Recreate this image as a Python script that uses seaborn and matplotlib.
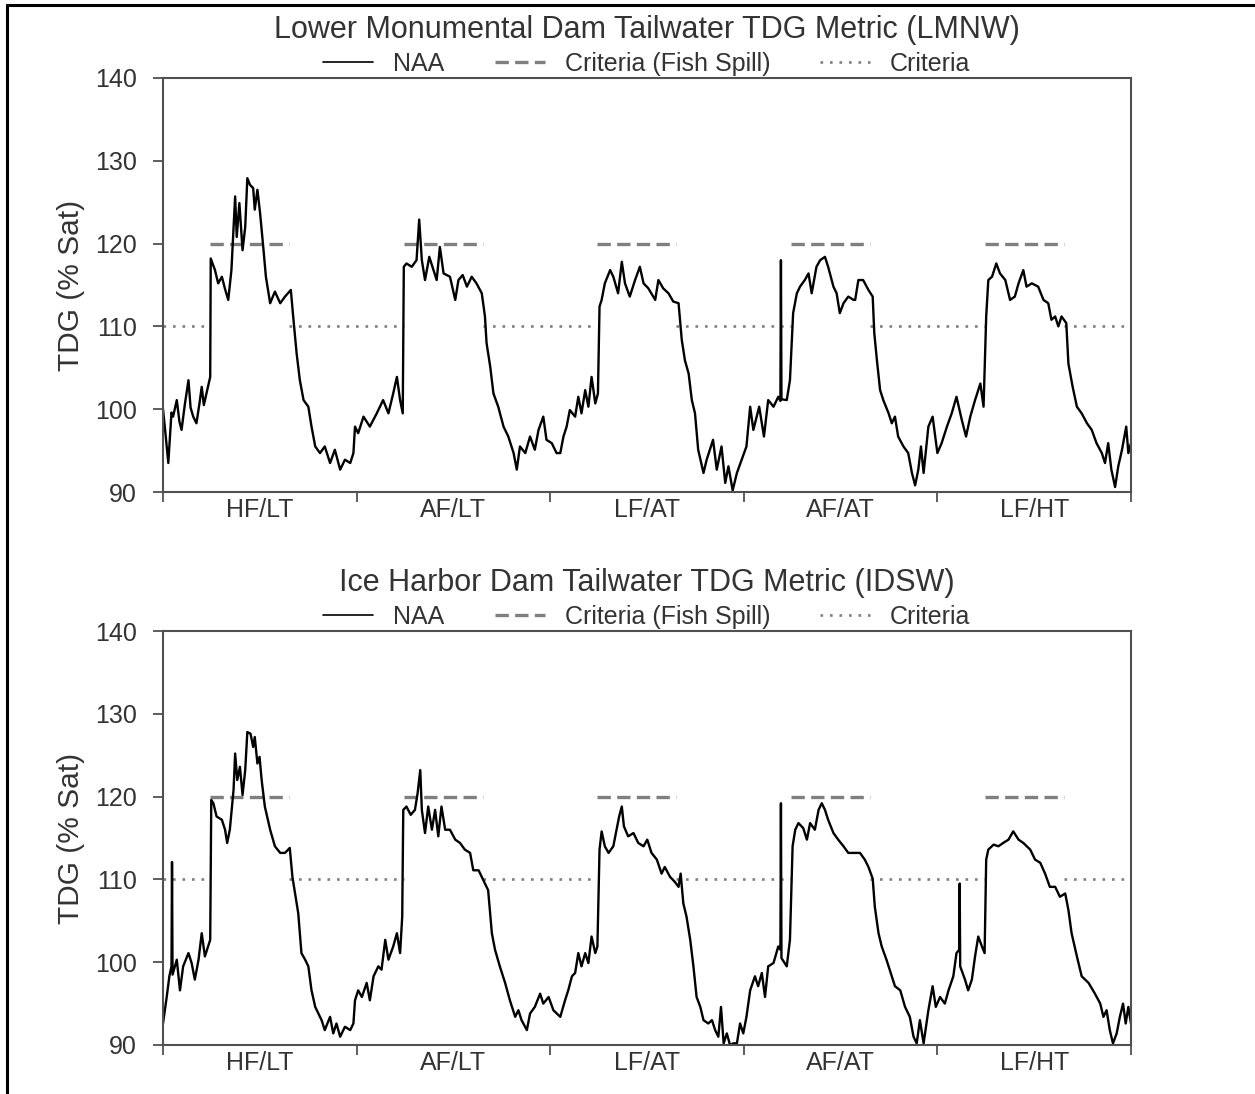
import numpy as np
import pandas as pd
import matplotlib
matplotlib.use("Agg")
import matplotlib.pyplot as plt
from matplotlib.lines import Line2D
import seaborn as sns

# ---- data -------------------------------------------------------------
scenarios = ["HF/LT", "AF/LT", "LF/AT", "AF/AT", "LF/HT"]
days_per_year = 365
spill_start_doy = 89     # fish spill season start (day of year)
spill_end_doy = 238      # fish spill season end (day of year)
fish_spill_criteria = 120.0
base_criteria = 110.0

titles = ["Lower Monumental Dam Tailwater TDG Metric (LMNW)",
          "Ice Harbor Dam Tailwater TDG Metric (IDSW)"]

lmnw_day = [0, 4, 10, 16, 19, 26, 31, 35, 41, 48, 52, 57, 63, 69, 73, 77, 82, 89,
            90, 98, 104, 111, 117, 123, 129, 136, 139, 144, 150, 155, 159, 164, 170,
            173, 178, 183, 189, 194, 202, 211, 221, 230, 241, 246, 252, 258, 265, 274,
            280, 287, 296, 305, 315, 324, 334, 343, 353, 359, 362,
            368, 378, 390, 403, 415, 425, 434, 441, 447, 452, 454, 459, 469, 478, 483,
            488, 494, 502, 510, 516, 522, 529, 541, 551, 557, 565, 573, 582, 591, 601,
            607, 610, 617, 623, 632, 642, 651, 661, 667, 673, 683, 692, 701, 708, 717,
            723, 733, 742,
            749, 755, 761, 767, 777, 783, 789, 796, 802, 808, 815, 820, 823, 827, 833,
            843, 849, 858, 865, 871, 880, 890, 899, 906, 915, 928, 934, 943, 953, 962,
            972, 978, 984, 991, 997, 1003, 1009, 1019, 1025, 1037, 1044, 1053, 1060,
            1066, 1074, 1082, 1091,
            1100, 1107, 1113, 1124, 1133, 1141, 1151, 1160, 1164, 1165, 1166, 1176,
            1182, 1188, 1195, 1201, 1210, 1217, 1223, 1232, 1239, 1248, 1254, 1264,
            1270, 1276, 1283, 1292, 1302, 1305, 1311, 1320, 1330, 1338, 1341, 1346,
            1352, 1358, 1368, 1374, 1380, 1386, 1396, 1405, 1412, 1418, 1424, 1429,
            1434, 1443, 1451, 1460,
            1468, 1478, 1487, 1496, 1506, 1514, 1522, 1531, 1541, 1547, 1552, 1556,
            1563, 1571, 1578, 1588, 1597, 1606, 1613, 1622, 1628, 1638, 1650, 1660,
            1669, 1675, 1682, 1688, 1694, 1703, 1707, 1715, 1723, 1732, 1742, 1751,
            1760, 1770, 1776, 1782, 1788, 1795, 1801, 1808, 1816, 1820, 1825]
lmnw_tdg = [100.0, 97.5, 93.5, 99.6, 99.1, 101.1, 98.5, 97.5, 100.5, 103.5, 100.2, 99.1,
            98.3, 100.8, 102.7, 100.5, 101.9, 103.9,
            118.2, 116.8, 115.2, 116.0, 114.5, 113.2, 116.8, 125.7, 120.8, 124.9, 119.2,
            122.0, 127.9, 127.1, 126.7, 124.1, 126.5, 123.7, 119.6, 116.0, 112.8, 114.2,
            112.8, 113.6, 114.4, 110.8, 106.7, 103.5, 101.1, 100.3, 97.9, 95.5, 94.7,
            95.5, 93.5, 95.1, 92.7, 93.9, 93.5, 94.7, 97.9,
            97.1, 99.1, 97.9, 99.5, 101.1, 99.5, 101.9, 103.9, 101.1, 99.5, 117.2, 117.6,
            117.2, 118.0, 122.9, 118.0, 115.6, 118.4, 116.8, 115.6, 119.6, 116.4, 116.0,
            113.2, 115.6, 116.2, 114.8, 116.0, 115.2, 114.0, 111.2, 108.0, 105.1, 101.9,
            100.3, 97.9, 96.7, 94.7, 92.7, 95.5, 94.7, 96.7, 95.1, 97.5, 99.1, 96.3,
            95.9, 94.7,
            94.7, 96.7, 97.9, 99.9, 99.1, 101.5, 99.5, 102.3, 100.3, 103.9, 100.7, 101.9,
            112.4, 113.2, 115.2, 116.8, 116.0, 114.0, 117.8, 115.2, 113.6, 115.6, 117.2,
            115.2, 114.6, 113.2, 115.6, 114.6, 114.0, 113.0, 112.8, 108.4, 105.9, 104.3,
            101.1, 99.5, 95.1, 92.3, 93.9, 96.3, 92.7, 95.5, 91.1, 93.1, 90.2, 92.3, 93.9,
            95.5, 100.3, 97.5, 100.3, 96.7, 101.1, 100.3, 101.5, 101.0, 118.0, 101.2,
            101.1, 103.5, 111.6, 114.0, 114.8, 115.6, 116.4, 114.0, 117.2, 118.0, 118.4,
            117.2, 114.8, 114.0, 111.6, 112.8, 113.6, 113.2, 113.2, 115.6, 115.6, 114.4,
            113.6, 109.2, 105.9, 102.3, 101.1, 99.5, 98.3, 99.1, 96.7, 95.5, 94.7, 92.3,
            90.8, 92.7, 95.5, 92.3, 97.9, 99.1, 94.7,
            95.9, 97.9, 99.5, 101.5, 98.7, 96.7, 99.1, 101.1, 103.1, 100.3, 111.2, 115.6,
            116.0, 117.6, 116.4, 115.6, 113.2, 113.6, 115.2, 116.8, 114.8, 115.2, 114.8,
            113.2, 112.8, 110.8, 111.2, 110.0, 111.2, 110.4, 105.5, 102.7, 100.3, 99.5,
            98.3, 97.5, 95.9, 94.7, 93.5, 95.9, 92.7, 90.6, 93.1, 95.1, 97.9, 94.7, 95.9]

idsw_day = [0, 7, 12, 16, 17, 18, 26, 32, 38, 48, 54, 60, 67, 73, 79, 85, 89,
            91, 95, 101, 111, 117, 121, 126, 133, 136, 140, 145, 150, 155, 159, 165,
            170, 173, 178, 182, 186, 192, 202, 211, 221, 230, 239, 244, 249, 255, 261,
            268, 274, 280, 287, 293, 299, 305, 315, 321, 327, 334, 343, 353, 359,
            362, 368, 375, 384, 390, 397, 406, 412, 419, 425, 434, 441, 447, 451, 453,
            459, 467, 475, 480, 485, 488, 494, 500, 507, 513, 519, 525, 532, 541, 551,
            560, 569, 579, 585, 595, 604, 613, 620, 626, 635, 645, 654, 664, 670, 676,
            686, 692, 701, 711, 717, 727, 736,
            749, 758, 764, 771, 777, 783, 789, 796, 802, 808, 815, 819, 823, 827, 833,
            840, 849, 855, 860, 865, 869, 877, 887, 896, 906, 913, 921, 931, 940, 946,
            956, 965, 972, 976, 981, 987, 994, 1000, 1006, 1013, 1019, 1028, 1035, 1041,
            1047, 1052, 1057, 1063, 1069, 1075, 1082, 1088,
            1094, 1100, 1107, 1116, 1122, 1129, 1135, 1141, 1151, 1160, 1164, 1165,
            1166, 1168, 1176, 1182, 1187, 1192, 1198, 1207, 1214, 1220, 1229, 1236,
            1242, 1248, 1254, 1264, 1273, 1283, 1292, 1302, 1314, 1323, 1330, 1338,
            1342, 1349, 1355, 1364, 1374, 1380, 1390, 1399, 1408, 1415, 1421, 1427,
            1434, 1443, 1451, 1457,
            1465, 1474, 1481, 1490, 1496, 1501, 1502, 1503, 1512, 1518, 1525, 1531,
            1537, 1544, 1549, 1552, 1556, 1566, 1575, 1584, 1594, 1603, 1613, 1622,
            1635, 1644, 1654, 1663, 1672, 1682, 1691, 1701, 1707, 1713, 1723, 1732,
            1745, 1757, 1767, 1773, 1779, 1785, 1791, 1798, 1804, 1810, 1815, 1820, 1825]
idsw_tdg = [92.6, 95.8, 98.3, 99.5, 112.1, 98.5, 100.3, 96.6, 99.5, 101.1, 99.9, 97.9,
            100.3, 103.5, 100.7, 101.9, 102.7,
            119.6, 119.2, 117.6, 117.2, 116.0, 114.4, 116.0, 120.8, 125.2, 122.0, 123.6,
            120.2, 123.2, 127.8, 127.6, 126.0, 127.2, 124.0, 124.8, 122.0, 118.8, 116.0,
            114.0, 113.2, 113.2, 113.8, 110.3, 108.3, 105.9, 101.1, 100.3, 99.5, 96.6,
            94.6, 93.8, 93.0, 91.8, 93.4, 91.4, 92.6, 91.0, 92.2, 91.8, 92.6,
            95.4, 96.6, 95.8, 97.5, 95.4, 98.3, 99.5, 99.1, 102.7, 100.3, 101.9, 103.5,
            101.1, 105.5, 118.4, 118.8, 117.8, 118.4, 120.4, 123.2, 118.4, 115.6, 118.8,
            116.0, 118.4, 115.2, 118.8, 116.0, 116.0, 114.8, 114.4, 113.6, 113.2, 111.1,
            111.1, 109.9, 108.7, 103.5, 101.5, 99.5, 97.5, 95.4, 93.4, 94.2, 93.0, 91.8,
            93.8, 94.6, 96.2, 95.0, 95.8, 94.2,
            93.4, 95.4, 96.6, 98.3, 98.7, 101.1, 99.5, 101.1, 99.9, 103.1, 101.1, 101.9,
            113.6, 115.8, 114.0, 113.2, 114.0, 116.0, 117.6, 118.8, 116.4, 115.2, 115.6,
            114.4, 114.0, 114.8, 113.2, 112.4, 110.7, 111.5, 110.3, 109.7, 109.1, 110.7,
            107.1, 105.5, 102.7, 99.5, 95.8, 94.6, 93.0, 92.6, 93.0, 91.8, 91.0, 94.6,
            90.2, 91.4, 90.0, 90.2, 90.2, 92.6,
            91.4, 93.4, 96.6, 98.3, 97.1, 98.7, 95.8, 99.5, 99.9, 101.9, 101.5, 119.2,
            100.5, 100.3, 99.5, 102.7, 114.0, 116.0, 116.8, 116.2, 114.8, 116.8, 116.0,
            118.4, 119.2, 118.4, 117.2, 115.6, 114.8, 114.0, 113.2, 113.2, 113.2, 112.4,
            111.5, 110.1, 106.7, 103.5, 101.9, 100.3, 98.3, 97.1, 96.6, 94.6, 93.4, 91.0,
            90.2, 93.0, 90.2, 94.2, 97.1, 94.6,
            95.8, 95.0, 96.6, 98.3, 101.1, 101.5, 109.5, 99.5, 97.9, 96.6, 97.9, 100.7,
            103.1, 101.9, 101.1, 112.4, 113.6, 114.2, 114.0, 114.4, 114.8, 115.8, 114.8,
            114.4, 113.6, 112.4, 112.0, 110.7, 109.1, 109.1, 107.9, 108.3, 106.3, 103.5,
            100.7, 98.3, 97.5, 96.2, 95.0, 93.4, 94.2, 91.8, 90.2, 91.4, 93.4, 95.0,
            92.6, 94.6, 92.6]

series_days = [lmnw_day, idsw_day]
series_tdg = [lmnw_tdg, idsw_tdg]

# ---- criteria segments --------------------------------------------------
n_years = len(scenarios)
total_days = n_years * days_per_year
spill_rows, base_rows = [], []
base_edges = [0]
for k in range(n_years):
    s = k * days_per_year + spill_start_doy
    e = k * days_per_year + spill_end_doy
    spill_rows += [(k, s, fish_spill_criteria), (k, e, fish_spill_criteria)]
    base_edges += [s, e]
base_edges.append(total_days)
for j in range(0, len(base_edges), 2):
    base_rows += [(j, base_edges[j], base_criteria), (j, base_edges[j + 1], base_criteria)]
spill_df = pd.DataFrame(spill_rows, columns=["seg", "day", "tdg"])
base_df = pd.DataFrame(base_rows, columns=["seg", "day", "tdg"])

# ---- style ---------------------------------------------------------------
sns.set_theme(style="ticks")
plt.rcParams["font.family"] = ["Liberation Sans", "DejaVu Sans"]
text_color = "#333333"
spine_color = "#505050"
crit_color = "#7f7f7f"

fig = plt.figure(figsize=(12.55, 10.94), dpi=100)
W, H = 1255.0, 1094.0
axes_boxes = [(163, 78, 1131, 492), (163, 631, 1131, 1045)]
dot_style = (0, (1, 2.6))
dash_style = (0, (4.0, 1.9))

for i, (x0, y0, x1, y1) in enumerate(axes_boxes):
    ax = fig.add_axes([x0 / W, 1 - y1 / H, (x1 - x0) / W, (y1 - y0) / H])
    sns.lineplot(data=base_df, x="day", y="tdg", units="seg", estimator=None,
                 color=crit_color, lw=1.9, ax=ax, linestyle=dot_style)
    sns.lineplot(data=spill_df, x="day", y="tdg", units="seg", estimator=None,
                 color=crit_color, lw=2.4, ax=ax, linestyle=dash_style)
    df = pd.DataFrame({"day": series_days[i], "tdg": series_tdg[i]})
    sns.lineplot(data=df, x="day", y="tdg", estimator=None, color="black",
                 lw=1.7, ax=ax)

    ax.set_xlim(0, total_days)
    ax.set_ylim(90, 140)
    ax.set_yticks([90, 100, 110, 120, 130, 140])
    ax.set_xticks([days_per_year * k for k in range(n_years + 1)])
    ax.set_xticklabels([])
    ax.set_xticks([days_per_year * (k + 0.5) for k in range(n_years)], minor=True)
    ax.set_xticklabels(scenarios, minor=True)
    ax.tick_params(axis="x", which="major", direction="out", length=7, width=1.3,
                   color=spine_color)
    ax.tick_params(axis="x", which="minor", length=0, pad=4, labelsize=18,
                   labelcolor=text_color)
    ax.tick_params(axis="y", direction="out", length=7, width=1.3, pad=12,
                   labelsize=18, labelcolor=text_color, color=spine_color)
    for sp in ax.spines.values():
        sp.set_visible(True)
        sp.set_color(spine_color)
        sp.set_linewidth(1.5)
    ax.set_xlabel("")
    ax.set_ylabel("TDG (% Sat)", fontsize=21.5, color=text_color, labelpad=7)

    ax.text(0.5, 1.116, titles[i], transform=ax.transAxes, ha="center", va="center",
            fontsize=22, color=text_color)
    handles = [Line2D([], [], color="black", lw=1.2),
               Line2D([], [], color=crit_color, lw=2.4, linestyle=dash_style),
               Line2D([], [], color=crit_color, lw=1.9, linestyle=dot_style)]
    leg = ax.legend(handles, ["NAA", "Criteria (Fish Spill)", "Criteria"],
                    loc="center", bbox_to_anchor=(0.5, 1.034), ncol=3, frameon=False,
                    fontsize=18, handlelength=2.0, handletextpad=0.8,
                    columnspacing=2.0, borderaxespad=0, borderpad=0)
    for t in leg.get_texts():
        t.set_color(text_color)

# outer frame lines (left and top)
fig.add_artist(Line2D([7 / W, 7 / W], [0, 1 - 5 / H], transform=fig.transFigure,
                      color="black", lw=2.2))
fig.add_artist(Line2D([7 / W, 1.0], [1 - 5 / H, 1 - 5 / H], transform=fig.transFigure,
                      color="black", lw=2.2))

fig.savefig("out.png", dpi=100, facecolor="white")
